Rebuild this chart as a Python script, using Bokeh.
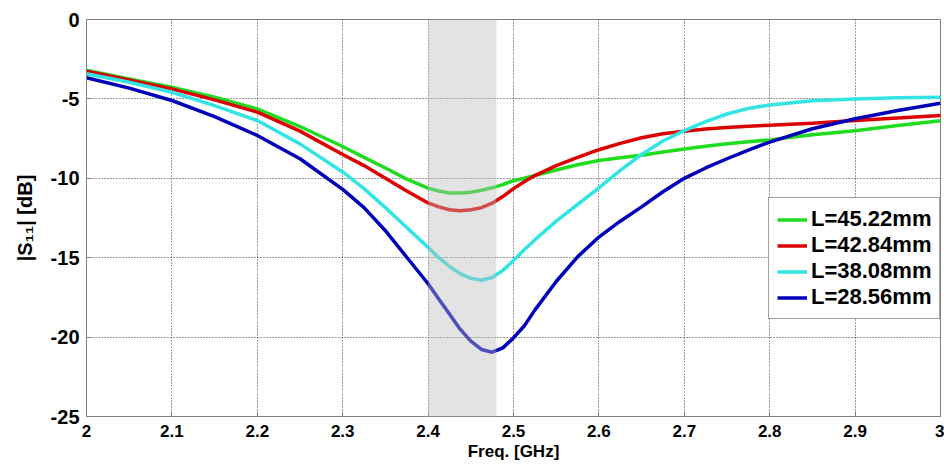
from bokeh.plotting import figure
from bokeh.models import (BoxAnnotation, Legend, LegendItem, FixedTicker,
                          PrintfTickFormatter, Range1d)
from bokeh.embed import file_html
from bokeh.resources import INLINE

# ---- data ----
freq = [2.0, 2.05, 2.1, 2.15, 2.2, 2.25, 2.3, 2.325, 2.35, 2.375, 2.4, 2.4125,
        2.425, 2.4375, 2.45, 2.4625, 2.475, 2.4875, 2.5, 2.5125, 2.525, 2.55,
        2.575, 2.6, 2.625, 2.65, 2.675, 2.7, 2.725, 2.75, 2.775, 2.8, 2.85, 2.9,
        2.95, 3.0]

s11_L4522 = [-3.2, -3.74, -4.26, -4.89, -5.63, -6.74, -8.0, -8.68, -9.35, -10.05,
             -10.62, -10.8, -10.92, -10.93, -10.88, -10.75, -10.6, -10.4, -10.15,
             -10.0, -9.82, -9.48, -9.15, -8.88, -8.7, -8.55, -8.35, -8.15, -7.98,
             -7.83, -7.7, -7.58, -7.26, -7.0, -6.68, -6.38]

s11_L4284 = [-3.25, -3.8, -4.37, -5.06, -5.83, -7.03, -8.5, -9.2, -10.0, -10.8,
             -11.55, -11.8, -11.98, -12.04, -11.98, -11.85, -11.57, -11.15, -10.65,
             -10.22, -9.83, -9.2, -8.68, -8.2, -7.8, -7.45, -7.2, -7.03, -6.9,
             -6.8, -6.72, -6.66, -6.53, -6.36, -6.2, -6.05]

s11_L3808 = [-3.42, -3.95, -4.58, -5.42, -6.36, -7.83, -9.6, -10.65, -11.85, -13.1,
             -14.35, -15.0, -15.55, -16.0, -16.3, -16.42, -16.25, -15.8, -15.18,
             -14.5, -13.88, -12.7, -11.65, -10.6, -9.5, -8.5, -7.65, -7.0, -6.43,
             -5.95, -5.6, -5.38, -5.12, -5.0, -4.93, -4.9]

s11_L2856 = [-3.67, -4.32, -5.1, -6.11, -7.3, -8.77, -10.7, -11.85, -13.3, -14.97,
             -16.64, -17.6, -18.55, -19.5, -20.25, -20.78, -20.95, -20.68, -20.05,
             -19.3, -18.3, -16.5, -14.95, -13.7, -12.7, -11.8, -10.85, -10.0,
             -9.35, -8.77, -8.22, -7.72, -6.88, -6.25, -5.73, -5.27]

series_labels = ["L=45.22mm", "L=42.84mm", "L=38.08mm", "L=28.56mm"]
series_colors = ["#1fdc1f", "#dd0000", "#33e4e4", "#0000bb"]

x_ticks = [2.0, 2.1, 2.2, 2.3, 2.4, 2.5, 2.6, 2.7, 2.8, 2.9, 3.0]
y_ticks = [-25, -20, -15, -10, -5, 0]

band_start = 2.4
band_end = 2.48

FONT = "Liberation Sans"

p = figure(width=944, height=474, x_range=Range1d(2, 3), y_range=Range1d(-25, 0),
           output_backend="svg", toolbar_location=None,
           min_border_left=86, min_border_right=4, min_border_top=19,
           min_border_bottom=58)
p.background_fill_color = "white"
p.border_fill_color = "white"
p.outline_line_color = "#808080"
p.outline_line_width = 1

# axes
for ax in (p.xaxis[0], p.yaxis[0]):
    ax.axis_line_color = "#808080"
    ax.major_tick_line_color = "#808080"
    ax.major_tick_in = 5
    ax.major_tick_out = 0
    ax.minor_tick_line_color = None
    ax.major_label_text_font = FONT
    ax.major_label_text_font_style = "bold"
    ax.major_label_text_color = "black"
    ax.axis_label_text_font = FONT
    ax.axis_label_text_font_style = "bold"
    ax.axis_label_text_color = "black"

p.xaxis.ticker = FixedTicker(ticks=x_ticks)
p.yaxis.ticker = FixedTicker(ticks=y_ticks)
p.xaxis.formatter = PrintfTickFormatter(format="%g")
p.yaxis.formatter = PrintfTickFormatter(format="%g")

p.xaxis.major_label_text_font_size = "17px"
p.xaxis.major_label_standoff = 8
p.xaxis.axis_label = "Freq. [GHz]"
p.xaxis.axis_label_text_font_size = "17px"
p.xaxis.axis_label_standoff = 2

p.yaxis.major_label_text_font_size = "20px"
p.yaxis.major_label_standoff = 7
p.yaxis.axis_label = "|S\u2081\u2081| [dB]"
p.yaxis.axis_label_text_font_size = "20px"
p.yaxis.axis_label_standoff = 12

# grid
for g in (p.xgrid[0], p.ygrid[0]):
    g.grid_line_color = "#222222"
    g.grid_line_dash = "1 2"
    g.grid_line_width = 1
    g.grid_line_alpha = 0.9
p.xgrid.ticker = FixedTicker(ticks=x_ticks)
p.ygrid.ticker = FixedTicker(ticks=y_ticks)

# curves
all_series = [s11_L4522, s11_L4284, s11_L3808, s11_L2856]
renderers = []
for ys, col in zip(all_series, series_colors):
    r = p.line(freq, ys, line_color=col, line_width=3.5, line_join="round")
    renderers.append(r)

# shaded ISM band (drawn over the curves)
band = BoxAnnotation(left=band_start, right=band_end, fill_color="#bcbcbc",
                     fill_alpha=0.42, line_alpha=0)
p.add_layout(band)

# legend
items = [LegendItem(label=lab, renderers=[r]) for lab, r in zip(series_labels, renderers)]
legend = Legend(items=items, location=(682, 97))
legend.label_text_font = FONT
legend.label_text_font_style = "bold"
legend.label_text_font_size = "22px"
legend.label_text_color = "black"
legend.glyph_width = 30
legend.glyph_height = 25
legend.label_height = 25
legend.label_standoff = 4
legend.spacing = 0
legend.padding = 8
legend.margin = 0
legend.border_line_color = "#444444"
legend.border_line_width = 1
legend.background_fill_color = "white"
legend.background_fill_alpha = 1.0
p.add_layout(legend)

open("out.html", "w").write(file_html(p, INLINE))
